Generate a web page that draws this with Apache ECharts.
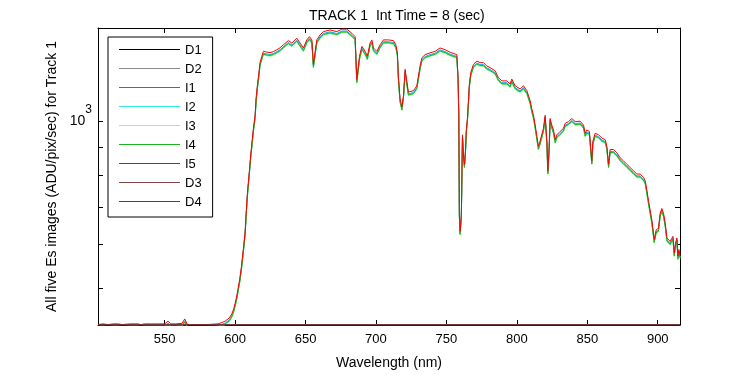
<!DOCTYPE html>
<html>
<head>
  <meta charset="UTF-8">
  <title>TRACK 1 Int Time = 8 (sec)</title>
  <script src="https://cdn.jsdelivr.net/npm/echarts@6.0.0/dist/echarts.min.js"></script>
  <style>
    html, body { margin: 0; padding: 0; background: #fff; }
    #chart { width: 750px; height: 375px; }
  </style>
</head>
<body>
  <div id="chart"></div>
  <script>
    // wavelength samples (nm) and I5 signal
    const wavelength = [
      502.7, 503.9, 506.2, 510, 513.4, 516.9, 520, 525.2, 531.1, 533, 535.9, 540, 545, 550.1,
      552.4, 554.3, 558, 562.3, 564.3, 566.1, 570, 575, 580, 587.5, 590.3, 593, 596, 598, 599,
      600.0, 601.2, 602.1, 603.3, 604.5, 605.9, 607.1, 607.8, 608.7, 610.2, 611.1, 612.1,
      613.0, 614.2, 614.9, 615.8, 616.8, 617.7, 619.0, 620.1, 622.5, 624.8, 627.2, 629.6,
      631.9, 634.3, 637.8, 640.3, 643.8, 646.1, 648.5, 649.7, 650.9, 652.8, 654.5, 655.6,
      656.8, 658.0, 660.3, 662.7, 667.4, 672.2, 675.8, 679.3, 682.9, 685.2, 686.4, 688.3,
      690.0, 691.1, 692.3, 693.9, 695.8, 697.1, 698.2, 700.6, 702.9, 705.3, 708.8, 712.4,
      714.1, 715.2, 715.9, 717.1, 718.4, 719.5, 720.7, 721.9, 723.0, 724.2, 726.6, 729.0,
      731.3, 732.6, 734.9, 738.4, 742.0, 745.5, 749.1, 752.6, 757.4, 758.3, 758.8, 759.2,
      759.7, 760.6, 761.4, 762.1, 762.8, 763.5, 764.2, 764.9, 765.6, 766.3, 767.3, 769.2,
      771.6, 773.9, 776.3, 778.7, 781.0, 782.2, 784.6, 786.9, 789.4, 792.9, 795.2, 796.4,
      798.8, 802.3, 804.7, 807.1, 809.4, 810.6, 811.8, 813.0, 814.2, 815.3, 816.5, 817.7,
      818.9, 820.1, 821.3, 822.0, 822.9, 823.6, 824.8, 826.0, 827.2, 828.4, 830.7, 833.1,
      834.3, 836.6, 839.0, 841.4, 844.9, 847.3, 848.5, 849.7, 851.5, 853.2, 854.0, 855.6,
      858.0, 860.4, 862.7, 863.9, 865.1, 866.2, 868.6, 871.0, 873.3, 875.7, 878.1, 880.4,
      882.8, 885.2, 887.5, 889.9, 891.1, 892.3, 893.4, 894.6, 895.8, 897.5, 898.9, 900.5,
      901.7, 902.9, 904.1, 905.3, 906.5, 908.8, 910.8, 911.7, 912.6, 913.6, 914.3, 915.0, 915.8
    ];
    const esI5 = [
      430.8, 432, 432, 430.8, 432, 432, 430.8, 432, 432, 430.8, 432, 432, 432, 432,
      437, 432, 432, 433, 441, 430.8, 430.8, 430.8, 430.8, 432, 434, 437, 443, 452, 460,
      470, 485, 500, 520, 548, 590, 632, 680, 740, 818, 871, 922,
      972, 1025, 1098, 1159, 1216, 1277, 1310, 1337, 1333, 1330, 1336, 1346,
      1357, 1374, 1398, 1384, 1412, 1384, 1356, 1346, 1402, 1421, 1402, 1267,
      1258, 1402, 1431, 1451, 1461, 1451, 1466, 1466, 1441, 1421, 1190, 1310,
      1365, 1374, 1337, 1310, 1384, 1402, 1356, 1337, 1374, 1402, 1402, 1398,
      1374, 1329, 1208, 1098, 1062, 1113, 1241, 1250, 1129, 1121, 1136, 1159,
      1258, 1302, 1319, 1329, 1337, 1356, 1346, 1332, 1319, 1199, 1033, 683,
      634, 679, 946, 870, 837, 885, 972, 1012, 1085, 1168, 1225, 1267,
      1284, 1276, 1276, 1258, 1250, 1250, 1233, 1199, 1183, 1183, 1168, 1192,
      1159, 1144, 1159, 1136, 1091, 1054, 1026, 985, 940, 902, 922, 915,
      972, 1026, 922, 815, 896, 1012, 985, 965, 927, 946, 959, 972,
      992, 999, 1012, 999, 1001, 985, 952, 965, 959, 849, 922, 952,
      946, 933, 927, 902, 837, 890, 890, 878, 860, 849, 837, 826,
      815, 804, 804, 793, 782, 751, 721, 692, 665, 613, 638, 642,
      683, 697, 683, 656, 617, 608, 621, 580, 604, 617, 572, 588, 575
    ];
    // relative level of I1..I5 against I5 (the other images sit a pixel or two lower)
    const imageNames = ['I1', 'I2', 'I3', 'I4', 'I5'];
    const imageGain = [0.992, 0.990, 0.985, 0.988, 1.0];
    // dark frames sit on the bottom of the axis
    const darkWavelength = [502.7, 600, 700, 800, 915.8];
    const esDark = [430.4, 430.4, 430.4, 430.4, 430.4];

    const xTicks = [550, 600, 650, 700, 750, 800, 850, 900];
    const yTicks = [500, 600, 700, 800, 900, 1000];
    const yLabels = [1000];

    const colors = {
      D1: '#000000', D2: '#8c8c8c', I1: '#0080ff', I2: '#33e6e6', I3: '#80ff80',
      I4: '#1fb01f', I5: '#ff0000', D3: '#804545', D4: '#703535'
    };
    const FONT = 'Liberation Sans, Arial, Helvetica, sans-serif';
    // plain 1px line for the legend key (empty moves keep the box 61x14)
    const LINE_ICON = 'path://M0,0L0,0M0,6L61,6L61,7L0,7ZM61,14L61,14';

    function darkSeries(name) {
      return {
        name: name, type: 'line', symbol: 'none', showSymbol: false,
        data: darkWavelength.map((w, i) => [w, esDark[i]]),
        lineStyle: { width: 1, color: colors[name] }, itemStyle: { color: colors[name] }
      };
    }
    function imageSeries(name, k) {
      return {
        name: name, type: 'line', symbol: 'none', showSymbol: false,
        data: wavelength.map((w, i) => [w, esI5[i] * imageGain[k]]),
        lineStyle: { width: 1, color: colors[name] }, itemStyle: { color: colors[name] }
      };
    }

    const series = [darkSeries('D1'), darkSeries('D2')]
      .concat(imageNames.map((n, k) => imageSeries(n, k)))
      .concat([darkSeries('D3'), darkSeries('D4')]);

    const chart = echarts.init(document.getElementById('chart'), null, { renderer: 'canvas' });
    chart.setOption({
      animation: false,
      backgroundColor: '#ffffff',
      textStyle: { fontFamily: FONT, color: '#000' },
      title: {
        text: 'TRACK 1  Int Time = 8 (sec)',
        left: 304, top: 4,
        textStyle: { fontFamily: FONT, fontSize: 14, fontWeight: 'normal', color: '#000' }
      },
      legend: {
        orient: 'vertical', left: 108, top: 37,
        padding: [6, 11, 8, 11], itemWidth: 61, itemHeight: 14, itemGap: 5,
        icon: LINE_ICON, symbolKeepAspect: false,
        itemStyle: { borderWidth: 0 },
        borderColor: '#000', borderWidth: 1, borderRadius: 0, backgroundColor: '#fff',
        selectedMode: false,
        textStyle: { fontFamily: FONT, fontSize: 13, color: '#000' },
        data: ['D1', 'D2', 'I1', 'I2', 'I3', 'I4', 'I5', 'D3', 'D4']
      },
      grid: { left: 98, right: 70, top: 28, bottom: 45 },
      xAxis: [{
        type: 'value', position: 'bottom', min: 502.7, max: 915.8,
        name: 'Wavelength (nm)', nameLocation: 'middle', nameGap: 31,
        nameTextStyle: { fontFamily: FONT, fontSize: 14, color: '#000' },
        axisLine: { onZero: false, lineStyle: { color: '#000', width: 1 } },
        axisTick: { inside: true, length: 5, customValues: xTicks, lineStyle: { color: '#000' } },
        axisLabel: { customValues: xTicks, margin: 8, fontFamily: FONT, fontSize: 13, color: '#000' },
        splitLine: { show: false }
      }, {
        type: 'value', position: 'top', min: 502.7, max: 915.8,
        axisLine: { onZero: false, lineStyle: { color: '#000', width: 1 } },
        axisTick: { inside: true, length: 5, customValues: xTicks, lineStyle: { color: '#000' } },
        axisLabel: { show: false },
        splitLine: { show: false }
      }],
      yAxis: [{
        type: 'log', logBase: 10, position: 'left', min: 430, max: 1473,
        name: 'All five Es images (ADU/pix/sec) for Track 1', nameLocation: 'middle', nameGap: 30,
        nameTextStyle: { fontFamily: FONT, fontSize: 14, color: '#000' },
        axisLine: { onZero: false, lineStyle: { color: '#000', width: 1 } },
        axisTick: { inside: true, length: 5, customValues: yTicks, lineStyle: { color: '#000' } },
        axisLabel: {
          customValues: yLabels, margin: 6,
          formatter: () => '{base|10}{sup|3}',
          rich: {
            base: { fontFamily: FONT, fontSize: 14, color: '#000', verticalAlign: 'middle' },
            sup: { fontFamily: FONT, fontSize: 12, color: '#000', verticalAlign: 'top', padding: [0, 0, 24, 0] }
          }
        },
        splitLine: { show: false }
      }, {
        type: 'log', logBase: 10, position: 'right', min: 430, max: 1473,
        axisLine: { onZero: false, lineStyle: { color: '#000', width: 1 } },
        axisTick: { inside: true, length: 5, customValues: yTicks, lineStyle: { color: '#000' } },
        axisLabel: { show: false },
        splitLine: { show: false }
      }],
      series: series
    });
  </script>
</body>
</html>
